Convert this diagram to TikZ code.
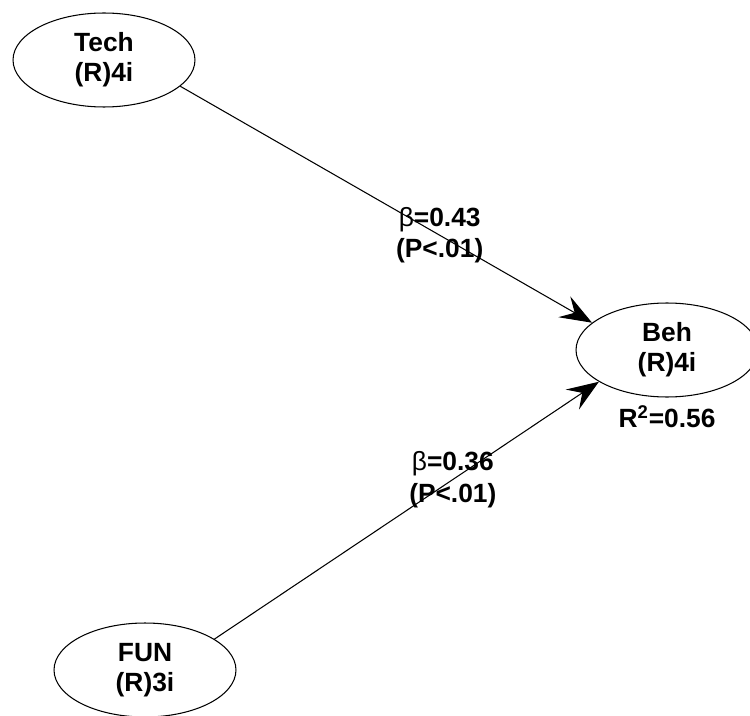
\documentclass[tikz,border=0pt]{standalone}
\usepackage{fontspec}
\setmainfont{Liberation Sans}
\usetikzlibrary{arrows.meta, positioning, shapes.geometric}

\begin{document}
\begin{tikzpicture}[
      x=0.02cm, y=-0.02cm,
      lv/.style={ellipse, draw, line width=0.6pt, minimum width=3.64cm,
                 minimum height=1.88cm, inner sep=0pt, align=center,
                 font=\fontsize{15}{17}\selectfont\bfseries},
      lbl/.style={align=center, font=\fontsize{15}{18}\selectfont\bfseries},
      ar/.style={-{Stealth[length=6.4mm, width=4.8mm, inset=2.4mm]}, line width=0.6pt}
    ]
    \useasboundingbox (0,0) rectangle (750,716);
    \node[lv] (tech) at (104,60)  {Tech\\(R)4i};
    \node[lv] (beh)  at (667,350) {Beh\\(R)4i};
    \node[lv] (fun)  at (145,670) {FUN\\(R)3i};
    \draw[ar] (tech.-19) -- node[lbl, pos=0.63] {{\mdseries β}=0.43\\(P<.01)} (beh.160);
    \draw[ar] (fun.24) -- node[lbl, pos=0.62] {{\mdseries β}=0.36\\(P<.01)} (beh.205);
    \node[lbl, below=0.3mm of beh] (rsq) {R\textsuperscript{2}=0.56};
\end{tikzpicture}
\end{document}
